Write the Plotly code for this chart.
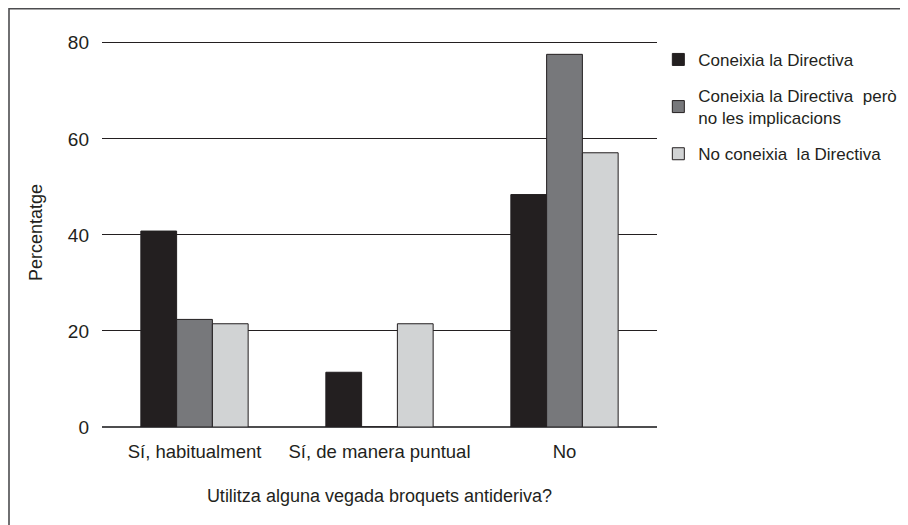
import plotly.graph_objects as go

categories = ["Sí, habitualment", "Sí, de manera puntual", "No"]
series_names = ["Coneixia la Directiva",
                "Coneixia la Directiva  però<br>no les implicacions",
                "No coneixia  la Directiva"]
coneixia = [40.8, 11.4, 48.4]
coneixia_no_impl = [22.4, 0, 77.6]
no_coneixia = [21.5, 21.5, 57.1]
y_ticks = [0, 20, 40, 60, 80]

colors = ["#231f20", "#77787b", "#d1d3d4"]
values = [coneixia, coneixia_no_impl, no_coneixia]

FONT = "Liberation Sans, Arial, sans-serif"

# page body has an 8px margin: figure is drawn 900x517 to fill the window
W, H = 900, 517
L, R, B = 94, 251, 98
YMAX = 81
plot_h = 384 * YMAX / 80
T = H - B - plot_h

fig = go.Figure()
for i, (name, vals, col) in enumerate(zip(series_names, values, colors)):
    fig.add_trace(go.Bar(
        x=categories, y=vals, name=name, legendgroup=f"g{i}",
        marker=dict(color=col, line=dict(color="#231f20", width=1)),
    ))

fig.update_layout(
    width=W, height=H,
    margin=dict(l=L, r=R, t=T, b=B, autoexpand=False),
    paper_bgcolor="white", plot_bgcolor="white",
    barmode="group", bargap=0.42, bargroupgap=0,
    font=dict(family=FONT, size=18, color="#231f20"),
    showlegend=True,
    legend=dict(
        x=1.0024, y=0.99, xanchor="left", yanchor="top",
        font=dict(family=FONT, size=17, color="#231f20"),
        traceorder="grouped", tracegroupgap=11,
        bgcolor="rgba(0,0,0,0)",
    ),
    xaxis=dict(
        showgrid=False, showline=False, ticks="",
        ticklabelstandoff=11,
        tickfont=dict(family=FONT, size=18.5),
        title=dict(text="Utilitza alguna vegada broquets antideriva?",
                   font=dict(family=FONT, size=18), standoff=28),
    ),
    yaxis=dict(
        range=[0, YMAX], tickvals=y_ticks,
        showgrid=True, gridcolor="#231f20", gridwidth=1,
        zeroline=True, zerolinecolor="#4d4d4f", zerolinewidth=2,
        showline=False, ticks="", ticklabelstandoff=12,
        tickfont=dict(family=FONT, size=19),
        title=dict(text="Percentatge",
                   font=dict(family=FONT, size=18),
                   standoff=20),
    ),
    shapes=[dict(type="rect", xref="paper", yref="paper",
                 x0=(1 - L) / 555, x1=(W + 10 - L) / 555,
                 y0=(H - B - (H + 10)) / plot_h, y1=(H - B - 0.8) / plot_h,
                 line=dict(color="#4d4d4f", width=1.6), layer="below")],
)

fig.write_html("out.html")
